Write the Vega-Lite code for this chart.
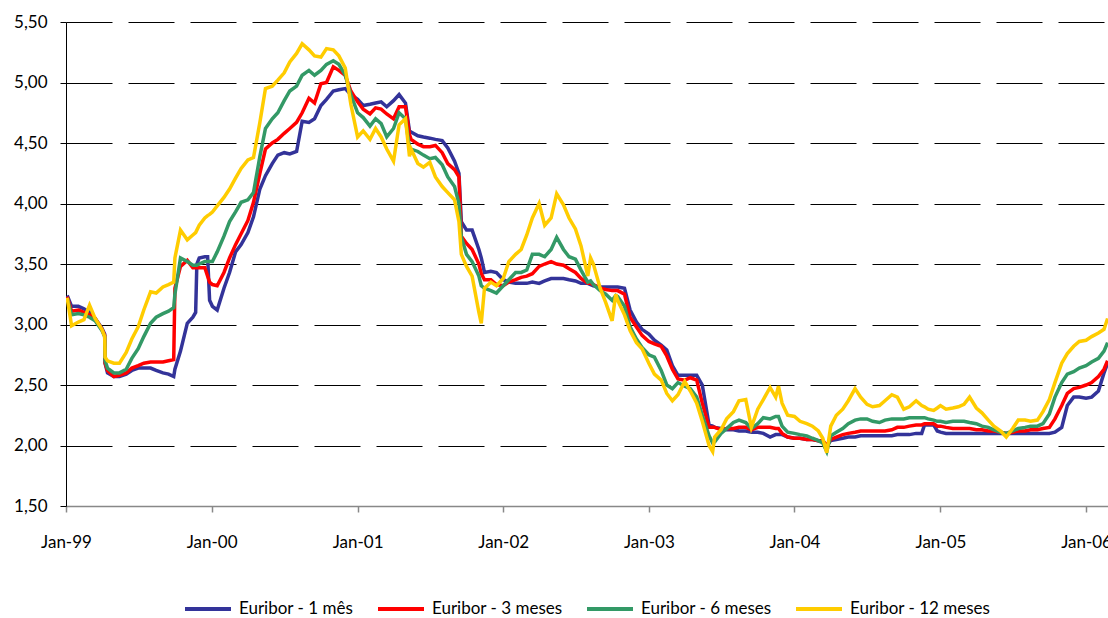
{
  "$schema": "https://vega.github.io/schema/vega-lite/v6.json",
  "width": 1042,
  "height": 484,
  "autosize": {"type": "none"},
  "padding": {"left": 66, "top": 22, "right": 0, "bottom": 112},
  "background": "white",
  "config": {"view": {"stroke": null}, "font": "Lato"},
  "data": {"values": [
    {"d":"1999-01-04","m1":3.24,"m3":3.23,"m6":3.22,"m12":3.22},
    {"d":"1999-01-15","m1":3.15,"m3":3.11,"m6":3.08,"m12":2.99},
    {"d":"1999-02-01","m1":3.15,"m3":3.12,"m6":3.09,"m12":3.02},
    {"d":"1999-02-15","m1":3.13,"m3":3.10,"m6":3.08,"m12":3.04},
    {"d":"1999-03-01","m1":3.10,"m3":3.08,"m6":3.06,"m12":3.16},
    {"d":"1999-03-15","m1":3.05,"m3":3.05,"m6":3.03,"m12":3.05},
    {"d":"1999-04-01","m1":2.97,"m3":2.96,"m6":2.95,"m12":2.96},
    {"d":"1999-04-08","m1":2.92,"m3":2.91,"m6":2.90,"m12":2.90},
    {"d":"1999-04-09","m1":2.68,"m3":2.68,"m6":2.70,"m12":2.73},
    {"d":"1999-04-15","m1":2.60,"m3":2.62,"m6":2.64,"m12":2.70},
    {"d":"1999-05-01","m1":2.57,"m3":2.57,"m6":2.60,"m12":2.68},
    {"d":"1999-05-15","m1":2.57,"m3":2.58,"m6":2.60,"m12":2.68},
    {"d":"1999-06-01","m1":2.59,"m3":2.60,"m6":2.63,"m12":2.77},
    {"d":"1999-06-15","m1":2.62,"m3":2.64,"m6":2.72,"m12":2.88},
    {"d":"1999-07-01","m1":2.64,"m3":2.66,"m6":2.80,"m12":2.98},
    {"d":"1999-07-15","m1":2.64,"m3":2.68,"m6":2.90,"m12":3.12},
    {"d":"1999-08-01","m1":2.64,"m3":2.69,"m6":3.01,"m12":3.27},
    {"d":"1999-08-15","m1":2.62,"m3":2.69,"m6":3.06,"m12":3.26},
    {"d":"1999-09-01","m1":2.60,"m3":2.69,"m6":3.09,"m12":3.31},
    {"d":"1999-09-15","m1":2.59,"m3":2.70,"m6":3.11,"m12":3.33},
    {"d":"1999-09-28","m1":2.57,"m3":2.71,"m6":3.14,"m12":3.35},
    {"d":"1999-10-01","m1":2.63,"m3":3.30,"m6":3.25,"m12":3.55},
    {"d":"1999-10-15","m1":2.78,"m3":3.48,"m6":3.55,"m12":3.78},
    {"d":"1999-11-01","m1":3.01,"m3":3.53,"m6":3.52,"m12":3.70},
    {"d":"1999-11-15","m1":3.06,"m3":3.47,"m6":3.49,"m12":3.74},
    {"d":"1999-11-22","m1":3.10,"m3":3.47,"m6":3.49,"m12":3.76},
    {"d":"1999-11-25","m1":3.50,"m3":3.47,"m6":3.49,"m12":3.78},
    {"d":"1999-12-01","m1":3.55,"m3":3.47,"m6":3.50,"m12":3.82},
    {"d":"1999-12-15","m1":3.56,"m3":3.47,"m6":3.52,"m12":3.88},
    {"d":"1999-12-22","m1":3.56,"m3":3.40,"m6":3.52,"m12":3.90},
    {"d":"1999-12-27","m1":3.20,"m3":3.35,"m6":3.52,"m12":3.91},
    {"d":"2000-01-03","m1":3.15,"m3":3.33,"m6":3.52,"m12":3.93},
    {"d":"2000-01-15","m1":3.12,"m3":3.32,"m6":3.60,"m12":3.98},
    {"d":"2000-02-01","m1":3.30,"m3":3.43,"m6":3.73,"m12":4.05},
    {"d":"2000-02-15","m1":3.43,"m3":3.55,"m6":3.85,"m12":4.12},
    {"d":"2000-03-01","m1":3.60,"m3":3.66,"m6":3.93,"m12":4.21},
    {"d":"2000-03-15","m1":3.66,"m3":3.75,"m6":4.01,"m12":4.29},
    {"d":"2000-04-01","m1":3.76,"m3":3.86,"m6":4.03,"m12":4.36},
    {"d":"2000-04-15","m1":3.89,"m3":4.01,"m6":4.09,"m12":4.38},
    {"d":"2000-05-01","m1":4.12,"m3":4.25,"m6":4.39,"m12":4.67},
    {"d":"2000-05-15","m1":4.23,"m3":4.45,"m6":4.62,"m12":4.95},
    {"d":"2000-06-01","m1":4.33,"m3":4.50,"m6":4.70,"m12":4.97},
    {"d":"2000-06-15","m1":4.40,"m3":4.53,"m6":4.75,"m12":5.02},
    {"d":"2000-07-01","m1":4.42,"m3":4.58,"m6":4.85,"m12":5.08},
    {"d":"2000-07-15","m1":4.41,"m3":4.62,"m6":4.93,"m12":5.17},
    {"d":"2000-08-01","m1":4.43,"m3":4.67,"m6":4.97,"m12":5.24},
    {"d":"2000-08-15","m1":4.68,"m3":4.75,"m6":5.06,"m12":5.32},
    {"d":"2000-09-01","m1":4.67,"m3":4.87,"m6":5.10,"m12":5.27},
    {"d":"2000-09-15","m1":4.70,"m3":4.83,"m6":5.06,"m12":5.22},
    {"d":"2000-10-01","m1":4.81,"m3":4.99,"m6":5.10,"m12":5.21},
    {"d":"2000-10-15","m1":4.86,"m3":5.00,"m6":5.15,"m12":5.28},
    {"d":"2000-11-01","m1":4.93,"m3":5.13,"m6":5.18,"m12":5.27},
    {"d":"2000-11-15","m1":4.94,"m3":5.10,"m6":5.15,"m12":5.22},
    {"d":"2000-12-01","m1":4.95,"m3":5.06,"m6":5.06,"m12":5.12},
    {"d":"2000-12-15","m1":4.90,"m3":4.93,"m6":4.90,"m12":4.82},
    {"d":"2001-01-01","m1":4.86,"m3":4.84,"m6":4.75,"m12":4.55},
    {"d":"2001-01-15","m1":4.81,"m3":4.78,"m6":4.71,"m12":4.60},
    {"d":"2001-02-01","m1":4.82,"m3":4.74,"m6":4.64,"m12":4.53},
    {"d":"2001-02-15","m1":4.83,"m3":4.79,"m6":4.70,"m12":4.62},
    {"d":"2001-03-01","m1":4.84,"m3":4.78,"m6":4.66,"m12":4.55},
    {"d":"2001-03-15","m1":4.80,"m3":4.74,"m6":4.55,"m12":4.45},
    {"d":"2001-04-01","m1":4.85,"m3":4.70,"m6":4.62,"m12":4.35},
    {"d":"2001-04-15","m1":4.90,"m3":4.80,"m6":4.75,"m12":4.65},
    {"d":"2001-05-01","m1":4.83,"m3":4.80,"m6":4.70,"m12":4.70},
    {"d":"2001-05-11","m1":4.60,"m3":4.57,"m6":4.46,"m12":4.39},
    {"d":"2001-05-15","m1":4.59,"m3":4.53,"m6":4.45,"m12":4.45},
    {"d":"2001-06-01","m1":4.56,"m3":4.49,"m6":4.43,"m12":4.33},
    {"d":"2001-06-15","m1":4.55,"m3":4.47,"m6":4.40,"m12":4.30},
    {"d":"2001-07-01","m1":4.54,"m3":4.47,"m6":4.37,"m12":4.34},
    {"d":"2001-07-15","m1":4.53,"m3":4.48,"m6":4.38,"m12":4.22},
    {"d":"2001-08-01","m1":4.52,"m3":4.42,"m6":4.32,"m12":4.14},
    {"d":"2001-08-15","m1":4.46,"m3":4.33,"m6":4.22,"m12":4.09},
    {"d":"2001-09-01","m1":4.35,"m3":4.28,"m6":4.14,"m12":4.03},
    {"d":"2001-09-12","m1":4.25,"m3":4.22,"m6":4.00,"m12":3.85},
    {"d":"2001-09-18","m1":3.85,"m3":3.73,"m6":3.72,"m12":3.58},
    {"d":"2001-10-01","m1":3.78,"m3":3.67,"m6":3.58,"m12":3.48},
    {"d":"2001-10-15","m1":3.78,"m3":3.62,"m6":3.52,"m12":3.40},
    {"d":"2001-11-01","m1":3.62,"m3":3.50,"m6":3.40,"m12":3.10},
    {"d":"2001-11-07","m1":3.55,"m3":3.42,"m6":3.32,"m12":3.01},
    {"d":"2001-11-15","m1":3.43,"m3":3.37,"m6":3.30,"m12":3.30},
    {"d":"2001-12-01","m1":3.44,"m3":3.37,"m6":3.28,"m12":3.35},
    {"d":"2001-12-15","m1":3.43,"m3":3.33,"m6":3.26,"m12":3.32},
    {"d":"2002-01-01","m1":3.37,"m3":3.32,"m6":3.32,"m12":3.38},
    {"d":"2002-01-15","m1":3.35,"m3":3.35,"m6":3.37,"m12":3.52},
    {"d":"2002-02-01","m1":3.34,"m3":3.37,"m6":3.43,"m12":3.58},
    {"d":"2002-02-15","m1":3.34,"m3":3.39,"m6":3.43,"m12":3.62},
    {"d":"2002-03-01","m1":3.34,"m3":3.40,"m6":3.45,"m12":3.74},
    {"d":"2002-03-15","m1":3.35,"m3":3.42,"m6":3.58,"m12":3.88},
    {"d":"2002-04-01","m1":3.34,"m3":3.48,"m6":3.58,"m12":4.00},
    {"d":"2002-04-15","m1":3.36,"m3":3.50,"m6":3.56,"m12":3.82},
    {"d":"2002-05-01","m1":3.38,"m3":3.52,"m6":3.62,"m12":3.88},
    {"d":"2002-05-15","m1":3.38,"m3":3.50,"m6":3.72,"m12":4.08},
    {"d":"2002-06-01","m1":3.38,"m3":3.49,"m6":3.62,"m12":3.99},
    {"d":"2002-06-15","m1":3.37,"m3":3.46,"m6":3.56,"m12":3.88},
    {"d":"2002-07-01","m1":3.36,"m3":3.43,"m6":3.54,"m12":3.79},
    {"d":"2002-07-15","m1":3.34,"m3":3.38,"m6":3.45,"m12":3.65},
    {"d":"2002-08-01","m1":3.34,"m3":3.34,"m6":3.35,"m12":3.40},
    {"d":"2002-08-08","m1":3.33,"m3":3.34,"m6":3.36,"m12":3.55},
    {"d":"2002-08-15","m1":3.32,"m3":3.33,"m6":3.33,"m12":3.50},
    {"d":"2002-09-01","m1":3.31,"m3":3.30,"m6":3.28,"m12":3.30},
    {"d":"2002-09-15","m1":3.31,"m3":3.29,"m6":3.25,"m12":3.18},
    {"d":"2002-10-01","m1":3.31,"m3":3.28,"m6":3.20,"m12":3.03},
    {"d":"2002-10-10","m1":3.31,"m3":3.28,"m6":3.24,"m12":3.25},
    {"d":"2002-10-15","m1":3.31,"m3":3.28,"m6":3.23,"m12":3.20},
    {"d":"2002-11-01","m1":3.30,"m3":3.25,"m6":3.15,"m12":3.08},
    {"d":"2002-11-15","m1":3.12,"m3":3.06,"m6":2.98,"m12":2.95},
    {"d":"2002-12-01","m1":3.02,"m3":2.98,"m6":2.88,"m12":2.85},
    {"d":"2002-12-15","m1":2.96,"m3":2.91,"m6":2.81,"m12":2.80},
    {"d":"2003-01-01","m1":2.92,"m3":2.86,"m6":2.75,"m12":2.68},
    {"d":"2003-01-15","m1":2.87,"m3":2.84,"m6":2.73,"m12":2.59},
    {"d":"2003-02-01","m1":2.83,"m3":2.82,"m6":2.62,"m12":2.54},
    {"d":"2003-02-15","m1":2.79,"m3":2.74,"m6":2.50,"m12":2.43},
    {"d":"2003-03-01","m1":2.66,"m3":2.63,"m6":2.47,"m12":2.37},
    {"d":"2003-03-15","m1":2.58,"m3":2.55,"m6":2.52,"m12":2.42},
    {"d":"2003-04-01","m1":2.58,"m3":2.54,"m6":2.49,"m12":2.53},
    {"d":"2003-04-15","m1":2.58,"m3":2.56,"m6":2.47,"m12":2.45},
    {"d":"2003-05-01","m1":2.58,"m3":2.54,"m6":2.40,"m12":2.35},
    {"d":"2003-05-15","m1":2.50,"m3":2.35,"m6":2.25,"m12":2.20},
    {"d":"2003-06-01","m1":2.17,"m3":2.15,"m6":2.08,"m12":2.00},
    {"d":"2003-06-10","m1":2.16,"m3":2.15,"m6":2.02,"m12":1.95},
    {"d":"2003-06-15","m1":2.15,"m3":2.15,"m6":2.03,"m12":2.07},
    {"d":"2003-07-01","m1":2.14,"m3":2.13,"m6":2.10,"m12":2.13},
    {"d":"2003-07-15","m1":2.13,"m3":2.14,"m6":2.14,"m12":2.22},
    {"d":"2003-08-01","m1":2.13,"m3":2.14,"m6":2.19,"m12":2.28},
    {"d":"2003-08-15","m1":2.12,"m3":2.15,"m6":2.21,"m12":2.37},
    {"d":"2003-09-01","m1":2.12,"m3":2.15,"m6":2.19,"m12":2.38},
    {"d":"2003-09-15","m1":2.11,"m3":2.13,"m6":2.14,"m12":2.15},
    {"d":"2003-10-01","m1":2.11,"m3":2.15,"m6":2.18,"m12":2.30},
    {"d":"2003-10-15","m1":2.10,"m3":2.15,"m6":2.23,"m12":2.38},
    {"d":"2003-11-01","m1":2.07,"m3":2.15,"m6":2.22,"m12":2.48},
    {"d":"2003-11-15","m1":2.09,"m3":2.14,"m6":2.24,"m12":2.40},
    {"d":"2003-11-22","m1":2.09,"m3":2.14,"m6":2.24,"m12":2.49},
    {"d":"2003-12-01","m1":2.09,"m3":2.10,"m6":2.16,"m12":2.35},
    {"d":"2003-12-15","m1":2.07,"m3":2.07,"m6":2.11,"m12":2.25},
    {"d":"2004-01-01","m1":2.06,"m3":2.06,"m6":2.10,"m12":2.24},
    {"d":"2004-01-15","m1":2.06,"m3":2.06,"m6":2.09,"m12":2.20},
    {"d":"2004-02-01","m1":2.05,"m3":2.05,"m6":2.08,"m12":2.18},
    {"d":"2004-02-15","m1":2.05,"m3":2.05,"m6":2.06,"m12":2.16},
    {"d":"2004-03-01","m1":2.04,"m3":2.04,"m6":2.04,"m12":2.12},
    {"d":"2004-03-12","m1":2.04,"m3":2.04,"m6":2.02,"m12":2.06},
    {"d":"2004-03-22","m1":2.00,"m3":2.00,"m6":1.95,"m12":1.94},
    {"d":"2004-04-01","m1":2.04,"m3":2.05,"m6":2.08,"m12":2.16},
    {"d":"2004-04-15","m1":2.05,"m3":2.07,"m6":2.11,"m12":2.25},
    {"d":"2004-05-01","m1":2.06,"m3":2.09,"m6":2.14,"m12":2.30},
    {"d":"2004-05-15","m1":2.07,"m3":2.10,"m6":2.18,"m12":2.37},
    {"d":"2004-06-01","m1":2.07,"m3":2.11,"m6":2.21,"m12":2.47},
    {"d":"2004-06-15","m1":2.08,"m3":2.12,"m6":2.22,"m12":2.40},
    {"d":"2004-07-01","m1":2.08,"m3":2.12,"m6":2.22,"m12":2.34},
    {"d":"2004-07-15","m1":2.08,"m3":2.12,"m6":2.20,"m12":2.32},
    {"d":"2004-08-01","m1":2.08,"m3":2.12,"m6":2.19,"m12":2.33},
    {"d":"2004-08-15","m1":2.08,"m3":2.12,"m6":2.21,"m12":2.37},
    {"d":"2004-09-01","m1":2.08,"m3":2.13,"m6":2.22,"m12":2.42},
    {"d":"2004-09-15","m1":2.09,"m3":2.15,"m6":2.22,"m12":2.40},
    {"d":"2004-10-01","m1":2.09,"m3":2.15,"m6":2.22,"m12":2.30},
    {"d":"2004-10-15","m1":2.09,"m3":2.16,"m6":2.23,"m12":2.32},
    {"d":"2004-11-01","m1":2.10,"m3":2.17,"m6":2.23,"m12":2.37},
    {"d":"2004-11-15","m1":2.10,"m3":2.17,"m6":2.23,"m12":2.33},
    {"d":"2004-11-22","m1":2.17,"m3":2.18,"m6":2.23,"m12":2.32},
    {"d":"2004-12-01","m1":2.17,"m3":2.18,"m6":2.22,"m12":2.30},
    {"d":"2004-12-15","m1":2.17,"m3":2.18,"m6":2.21,"m12":2.29},
    {"d":"2004-12-24","m1":2.12,"m3":2.16,"m6":2.20,"m12":2.31},
    {"d":"2005-01-01","m1":2.11,"m3":2.16,"m6":2.20,"m12":2.33},
    {"d":"2005-01-15","m1":2.10,"m3":2.15,"m6":2.19,"m12":2.30},
    {"d":"2005-02-01","m1":2.10,"m3":2.14,"m6":2.20,"m12":2.31},
    {"d":"2005-02-15","m1":2.10,"m3":2.14,"m6":2.20,"m12":2.32},
    {"d":"2005-03-01","m1":2.10,"m3":2.14,"m6":2.20,"m12":2.34},
    {"d":"2005-03-15","m1":2.10,"m3":2.14,"m6":2.19,"m12":2.40},
    {"d":"2005-04-01","m1":2.10,"m3":2.13,"m6":2.18,"m12":2.31},
    {"d":"2005-04-15","m1":2.10,"m3":2.13,"m6":2.16,"m12":2.27},
    {"d":"2005-05-01","m1":2.10,"m3":2.12,"m6":2.15,"m12":2.21},
    {"d":"2005-05-15","m1":2.10,"m3":2.12,"m6":2.13,"m12":2.16},
    {"d":"2005-06-01","m1":2.10,"m3":2.11,"m6":2.11,"m12":2.12},
    {"d":"2005-06-15","m1":2.10,"m3":2.10,"m6":2.10,"m12":2.07},
    {"d":"2005-07-01","m1":2.10,"m3":2.11,"m6":2.12,"m12":2.14},
    {"d":"2005-07-15","m1":2.10,"m3":2.12,"m6":2.14,"m12":2.21},
    {"d":"2005-08-01","m1":2.10,"m3":2.12,"m6":2.15,"m12":2.21},
    {"d":"2005-08-15","m1":2.10,"m3":2.13,"m6":2.16,"m12":2.20},
    {"d":"2005-09-01","m1":2.10,"m3":2.13,"m6":2.16,"m12":2.21},
    {"d":"2005-09-15","m1":2.10,"m3":2.14,"m6":2.18,"m12":2.28},
    {"d":"2005-10-01","m1":2.10,"m3":2.15,"m6":2.26,"m12":2.38},
    {"d":"2005-10-15","m1":2.11,"m3":2.22,"m6":2.40,"m12":2.52},
    {"d":"2005-11-01","m1":2.15,"m3":2.33,"m6":2.52,"m12":2.68},
    {"d":"2005-11-15","m1":2.33,"m3":2.43,"m6":2.59,"m12":2.76},
    {"d":"2005-12-01","m1":2.40,"m3":2.47,"m6":2.61,"m12":2.82},
    {"d":"2005-12-15","m1":2.40,"m3":2.48,"m6":2.64,"m12":2.86},
    {"d":"2006-01-01","m1":2.39,"m3":2.50,"m6":2.66,"m12":2.87},
    {"d":"2006-01-15","m1":2.40,"m3":2.52,"m6":2.69,"m12":2.90},
    {"d":"2006-02-01","m1":2.45,"m3":2.57,"m6":2.72,"m12":2.93},
    {"d":"2006-02-15","m1":2.60,"m3":2.63,"m6":2.78,"m12":2.96},
    {"d":"2006-02-24","m1":2.68,"m3":2.70,"m6":2.85,"m12":3.05}
  ]},
  "transform": [{"fold": ["m1", "m3", "m6", "m12"], "as": ["s", "v"]}],
  "mark": {"type": "line", "strokeWidth": 3.5, "clip": true},
  "encoding": {
    "x": {
      "field": "d", "type": "temporal",
      "scale": {"type": "utc", "domain": ["1999-01-01", "2006-02-25"]},
      "axis": {
        "title": null, "format": "%b-%y", "tickCount": {"interval": "year", "step": 1},
        "grid": false, "domainColor": "#888888", "domainWidth": 1.5, "tickColor": "#888888", "tickWidth": 1.5, "tickSize": 6,
        "labelFontSize": 17, "labelColor": "#000000", "labelPadding": 22, "labelFlush": false, "labelOverlap": false, "labelFont": "Lato"
      }
    },
    "y": {
      "field": "v", "type": "quantitative",
      "scale": {"domain": [1.5, 5.5], "nice": false, "zero": false},
      "axis": {
        "title": null, "values": [1.5, 2, 2.5, 3, 3.5, 4, 4.5, 5, 5.5],
        "labelExpr": "replace(format(datum.value, '.2f'), '.', ',')",
        "grid": true, "gridColor": "#000000", "gridDash": [46, 16], "gridWidth": 1,
        "gridOpacity": {"condition": {"test": "datum.value == 1.5", "value": 0}, "value": 1},
        "domainColor": "#000000", "tickColor": "#000000", "tickSize": 6,
        "labelPadding": 13, "labelFontSize": 17, "labelColor": "#000000", "labelFont": "Lato"
      }
    },
    "color": {
      "field": "s", "type": "nominal",
      "scale": {"domain": ["m1", "m3", "m6", "m12"], "range": ["#333399", "#FF0000", "#339966", "#FFCC00"]},
      "legend": {
        "title": null, "orient": "none", "legendX": 117, "legendY": 562, "direction": "horizontal",
        "symbolType": "stroke", "symbolStrokeWidth": 4, "symbolSize": 2116,
        "labelFontSize": 17, "labelFont": "Lato", "labelColor": "#000000", "labelOffset": 6, "columnPadding": 16, "padding": 0,
        "labelExpr": "datum.value == 'm1' ? 'Euribor - 1 mês' : datum.value == 'm3' ? 'Euribor - 3 meses' : datum.value == 'm6' ? 'Euribor - 6 meses' : 'Euribor - 12 meses'"
      }
    }
  }
}
